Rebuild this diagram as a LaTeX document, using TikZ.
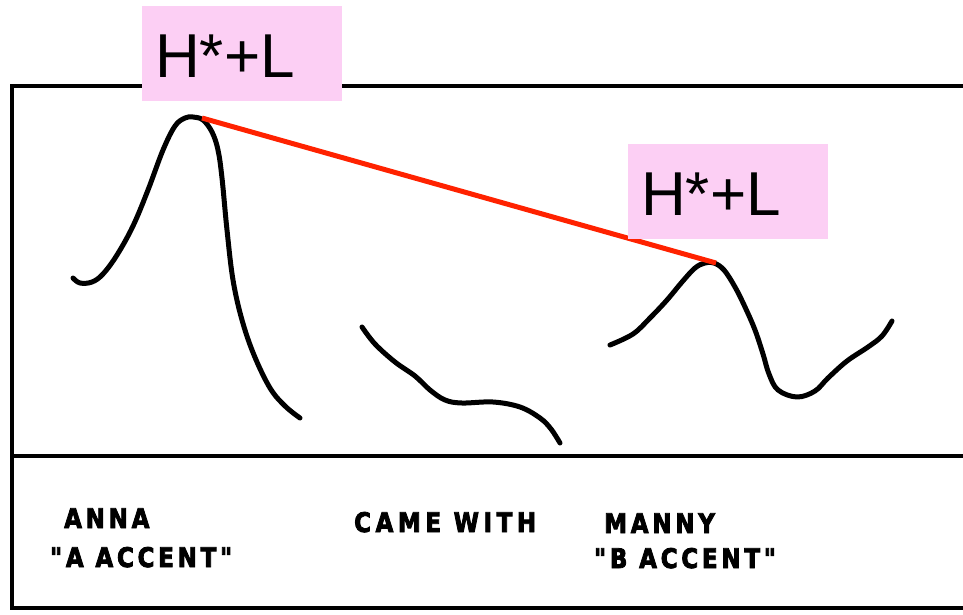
\documentclass[tikz,border=0pt]{standalone}
\usepackage{fontspec}
\setmainfont{Liberation Sans}
\newfontfamily\lettering{DejaVu Sans}[FakeStretch=0.85,LetterSpace=14,FakeBold=3]
\newfontfamily\letteringwide{DejaVu Sans}[FakeStretch=0.85,LetterSpace=17,FakeBold=3]
\definecolor{hlpink}{RGB}{252,207,244}
\definecolor{hlred}{RGB}{255,34,0}
\begin{document}
\begin{tikzpicture}[x=1pt,y=-1pt,
  frame/.style={line width=3.2pt,black},
  contour/.style={line width=5pt,black,line cap=round,line join=round},
  tonebox/.style={fill=hlpink,anchor=north west,inner xsep=13pt,inner ysep=0pt,
    text width=174pt,align=left,text height=71pt,text depth=24pt,
    font=\fontsize{62}{62}\selectfont},
  wordlbl/.style={anchor=base west,inner sep=0pt,font=\lettering\bfseries\fontsize{27}{27}\selectfont},
  link/.style={line width=5pt,hlred}]
\useasboundingbox (0,0) rectangle (963,615);
\fill[white] (0,0) rectangle (963,615);
% frame
\draw[frame] (963,86) -- (12,86) -- (12,608) -- (963,608);
\draw[frame] (12,456) -- (963,456);
% pitch contours
\draw[contour] plot[smooth,tension=0.6] coordinates {(73,278) (80,283) (92,282) (103,274) (117,255) (133,226) (148,190) (163,150) (175,126) (185,118) (193,117) (203,120) (212,132) (218,150) (222,178) (227,230) (233,280) (242,320) (254,355) (270,388) (285,406) (300,418)};
\draw[contour] plot[smooth,tension=0.6] coordinates {(362,327) (375,344) (395,362) (415,376) (430,390) (445,400) (462,403) (493,402) (520,407) (540,418) (551,429) (560,443)};
\draw[contour] plot[smooth,tension=0.6] coordinates {(610,345) (633,334) (650,318) (667,300) (682,282) (695,268) (705,263) (714,263) (724,270) (735,287) (745,307) (755,330) (763,354) (769,374) (778,390) (797,397) (815,391) (828,378) (847,361) (868,347) (882,336) (892,321)};
% peak link
\coordinate (peakA) at (202,118);
\coordinate (peakB) at (716,263);
\draw[link] (peakA) -- (peakB);
% tone labels
\node[tonebox] (hl1) at (142,6) {H*+L};
\node[tonebox] (hl2) at (628,144) {H*+L};
% word labels
\node[wordlbl] (anna) at (64,528) {ANNA};
\node[wordlbl] (aacc) at (50,567) {"A ACCENT"};
\node[wordlbl,font=\letteringwide\bfseries\fontsize{27}{27}\selectfont] (came) at (354,532) {CAME WITH};
\node[wordlbl] (manny) at (604,533) {MANNY};
\node[wordlbl] (bacc) at (594,568) {"B ACCENT"};
\end{tikzpicture}
\end{document}
